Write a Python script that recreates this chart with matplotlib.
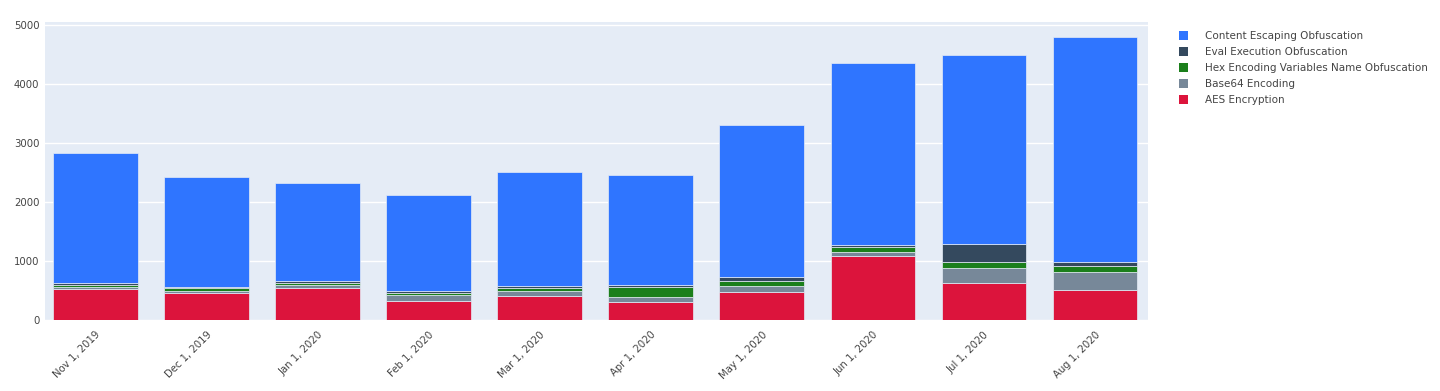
import numpy as np
import matplotlib
matplotlib.use('Agg')
import matplotlib.pyplot as plt
from matplotlib.patches import Patch

months = ['Nov 1, 2019', 'Dec 1, 2019', 'Jan 1, 2020', 'Feb 1, 2020', 'Mar 1, 2020',
          'Apr 1, 2020', 'May 1, 2020', 'Jun 1, 2020', 'Jul 1, 2020', 'Aug 1, 2020']

# stacked bottom -> top
aes = [520, 455, 540, 330, 415, 300, 470, 1090, 620, 505]
base64 = [40, 40, 50, 90, 75, 95, 110, 70, 265, 305]
hex_enc = [40, 45, 45, 40, 50, 170, 85, 75, 90, 110]
eval_exec = [25, 25, 30, 30, 35, 25, 70, 40, 305, 60]
content = [2205, 1855, 1655, 1630, 1935, 1860, 2570, 3075, 3210, 3820]

series = [
    ('AES Encryption', aes, '#DC143C'),
    ('Base64 Encoding', base64, '#778899'),
    ('Hex Encoding Variables Name Obfuscation', hex_enc, '#1B7F1B'),
    ('Eval Execution Obfuscation', eval_exec, '#34495E'),
    ('Content Escaping Obfuscation', content, '#2F75FF'),
]

fig = plt.figure(figsize=(14.4, 3.91), dpi=100)
ax = fig.add_axes([0.03125, 0.1816, 0.7660, 0.7621])
ax.set_facecolor('#E5ECF6')

x = np.arange(len(months))
bottom = np.zeros(len(months))
for name, vals, color in series:
    ax.bar(x, vals, bottom=bottom, width=0.76, color=color,
           edgecolor='#E5ECF6', linewidth=0.5, zorder=3)
    bottom += np.array(vals)

ax.set_xlim(-0.455, 9.48)
ax.set_ylim(0, 5050)
ax.set_yticks([0, 1000, 2000, 3000, 4000, 5000])
ax.grid(axis='y', color='white', linewidth=1, zorder=0)
ax.set_xticks(x)
ax.set_xticklabels(months, rotation=45, ha='right', rotation_mode='anchor')
ax.tick_params(length=0, labelsize=7.3, labelcolor='#444444')
ax.tick_params(axis='y', pad=4)
ax.tick_params(axis='x', pad=7)
for s in ax.spines.values():
    s.set_visible(False)

handles = [Patch(facecolor=c, label=n) for n, v, c in reversed(series)]
fig.legend(handles=handles, loc='upper left', bbox_to_anchor=(0.812, 0.945),
           frameon=False, fontsize=7.5, handlelength=0.9, handleheight=1.0,
           labelspacing=0.55, handletextpad=1.6, labelcolor='#444444')

fig.savefig('out.png', dpi=100)
